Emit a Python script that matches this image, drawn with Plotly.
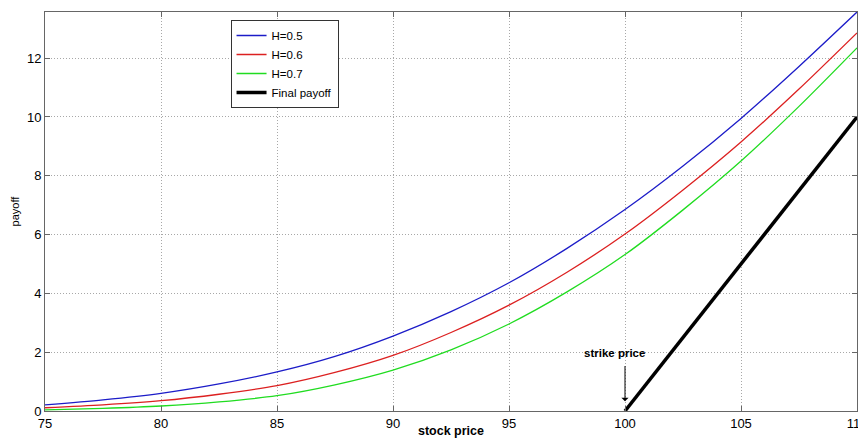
import plotly.graph_objects as go

stock_price = [75, 77.5, 80, 82.5, 85, 87.5, 90, 92.5, 95, 97.5, 100, 102.5, 105, 107.5, 110]
h05 = [0.21, 0.38, 0.60, 0.92, 1.33, 1.86, 2.55, 3.38, 4.36, 5.53, 6.85, 8.33, 9.95, 11.72, 13.57]
h06 = [0.11, 0.21, 0.35, 0.57, 0.86, 1.31, 1.89, 2.67, 3.60, 4.72, 6.02, 7.52, 9.15, 10.95, 12.86]
h07 = [0.04, 0.09, 0.17, 0.31, 0.52, 0.89, 1.39, 2.08, 2.96, 4.05, 5.32, 6.84, 8.50, 10.36, 12.35]
payoff_x = [100, 105, 110]
payoff_y = [0, 5, 10]
strike = 100

x_ticks = [75, 80, 85, 90, 95, 100, 105, 110]
y_ticks = [0, 2, 4, 6, 8, 10, 12]

FONT = "Liberation Sans, Arial, sans-serif"

fig = go.Figure()
fig.add_trace(go.Scatter(x=stock_price, y=h05, mode="lines", name="H=0.5",
                         line=dict(color="#1c1cc8", width=1.3, shape="spline", smoothing=0.8)))
fig.add_trace(go.Scatter(x=stock_price, y=h06, mode="lines", name="H=0.6",
                         line=dict(color="#dc2020", width=1.3, shape="spline", smoothing=0.8)))
fig.add_trace(go.Scatter(x=stock_price, y=h07, mode="lines", name="H=0.7",
                         line=dict(color="#20dc20", width=1.3, shape="spline", smoothing=0.8)))
fig.add_trace(go.Scatter(x=payoff_x, y=payoff_y, mode="lines", name="Final payoff",
                         line=dict(color="black", width=3.5)))

fig.add_annotation(x=99.55, y=1.98, xref="x", yref="y", text="<b>strike price</b>", showarrow=False,
                   font=dict(family=FONT, size=11.5, color="black"))
fig.add_annotation(x=strike, y=0.33, xref="x", yref="y", ax=strike, ay=1.58, axref="x", ayref="y",
                   text="", showarrow=True, arrowhead=1, arrowsize=1.2, arrowwidth=1, arrowcolor="black")

axis_common = dict(showgrid=True, gridcolor="#a8a8a8", griddash="1px,2px", gridwidth=1,
                   showline=True, linecolor="#666666", linewidth=1, mirror="ticks",
                   ticks="inside", ticklen=5, tickcolor="#666666", zeroline=False,
                   tickfont=dict(family=FONT, size=13, color="black"))

fig.update_layout(
    width=858, height=430,
    margin=dict(l=37, r=9, t=4, b=27),
    paper_bgcolor="white", plot_bgcolor="white",
    xaxis=dict(range=[75, 110], tickvals=x_ticks, ticktext=[str(v) for v in x_ticks],
               ticklabeloverflow="allow",
               title=dict(text="<b>stock price</b>", font=dict(family=FONT, size=12.5, color="black"), standoff=0),
               automargin=False, **axis_common),
    yaxis=dict(range=[0, 13.57], tickvals=y_ticks, ticktext=[str(v) for v in y_ticks],
               ticklabeloverflow="allow",
               title=dict(text="payoff", font=dict(family=FONT, size=11, color="black"), standoff=5),
               automargin=False, **axis_common),
    legend=dict(x=0.2285, y=0.98, xanchor="left", yanchor="top", bgcolor="white",
                bordercolor="#333333", borderwidth=1, font=dict(family=FONT, size=11.5, color="black"),
                tracegroupgap=0, itemwidth=30),
    showlegend=True,
)

fig.write_html("out.html")
